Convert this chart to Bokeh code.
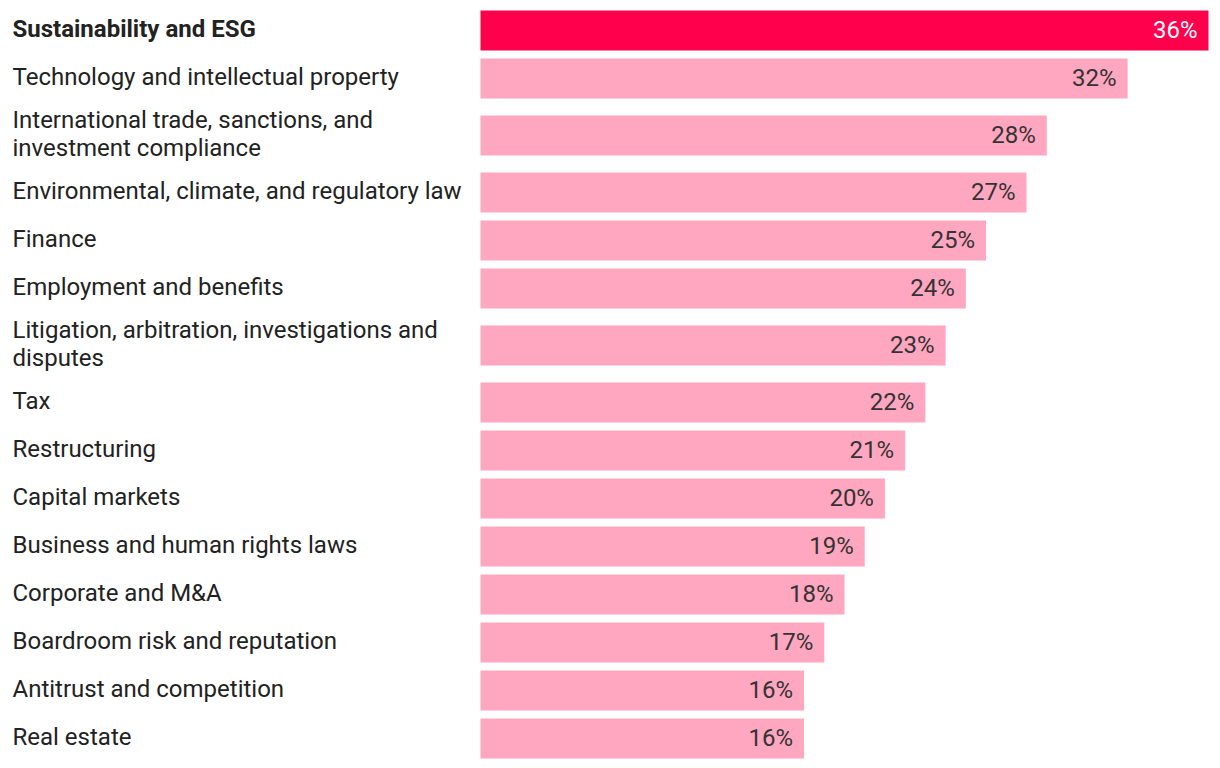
from bokeh.plotting import figure
from bokeh.models import ColumnDataSource, Range1d
from bokeh.core.properties import value
from bokeh.embed import file_html
from bokeh.resources import INLINE

categories = [
    "Sustainability and ESG",
    "Technology and intellectual property",
    "International trade, sanctions, and\ninvestment compliance",
    "Environmental, climate, and regulatory law",
    "Finance",
    "Employment and benefits",
    "Litigation, arbitration, investigations and\ndisputes",
    "Tax",
    "Restructuring",
    "Capital markets",
    "Business and human rights laws",
    "Corporate and M&A",
    "Boardroom risk and reputation",
    "Antitrust and competition",
    "Real estate",
]
values = [36, 32, 28, 27, 25, 24, 23, 22, 21, 20, 19, 18, 17, 16, 16]
highlight = [True] + [False] * 14

# layout (screen pixels)
W, H = 1214, 762
ORIGIN = 0
BAR_X0 = 480
PX_PER_PCT = 728 / 36.0
ROW1, ROW2 = 48, 66
BAR_H = 40

centers = []
y = 6
for c in categories:
    h = ROW2 if "\n" in c else ROW1
    centers.append(y + h / 2)
    y += h

fill = ["#FF004D" if hl else "#FFA6C0" for hl in highlight]
vcol = ["#FFFFFF" if hl else "#333333" for hl in highlight]
lbl = [f"{v}%" for v in values]
cat_style = ["bold" if hl else "normal" for hl in highlight]

src = ColumnDataSource(dict(cat=categories, val=values, y=centers, fill=fill,
                            vcol=vcol, lbl=lbl, style=cat_style, zero=[0] * len(values)))

x0 = (ORIGIN - BAR_X0) / PX_PER_PCT
x1 = (ORIGIN + W - BAR_X0) / PX_PER_PCT
p = figure(width=W, height=H, output_backend="svg", toolbar_location=None,
           x_range=Range1d(x0, x1), y_range=Range1d(ORIGIN + H, ORIGIN),
           min_border=0, outline_line_color=None)
p.axis.visible = False
p.grid.visible = False
p.background_fill_color = "white"
p.border_fill_color = "white"

p.hbar(y="y", left=0, right="val", height=BAR_H, fill_color="fill", line_color=None, source=src)

p.text(x="zero", y="y", text="cat", x_offset=-468, y_offset=-2, text_align="left",
       text_baseline="middle", text_font=value("Roboto"), text_font_size="24px",
       text_color="#222222", text_font_style="style", text_line_height=1.0, source=src)

p.text(x="val", y="y", text="lbl", x_offset=-11, y_offset=-1, text_align="right",
       text_baseline="middle", text_font=value("Roboto"), text_font_size="24px",
       text_color="vcol", source=src)

open("out.html", "w").write(file_html(p, INLINE))
